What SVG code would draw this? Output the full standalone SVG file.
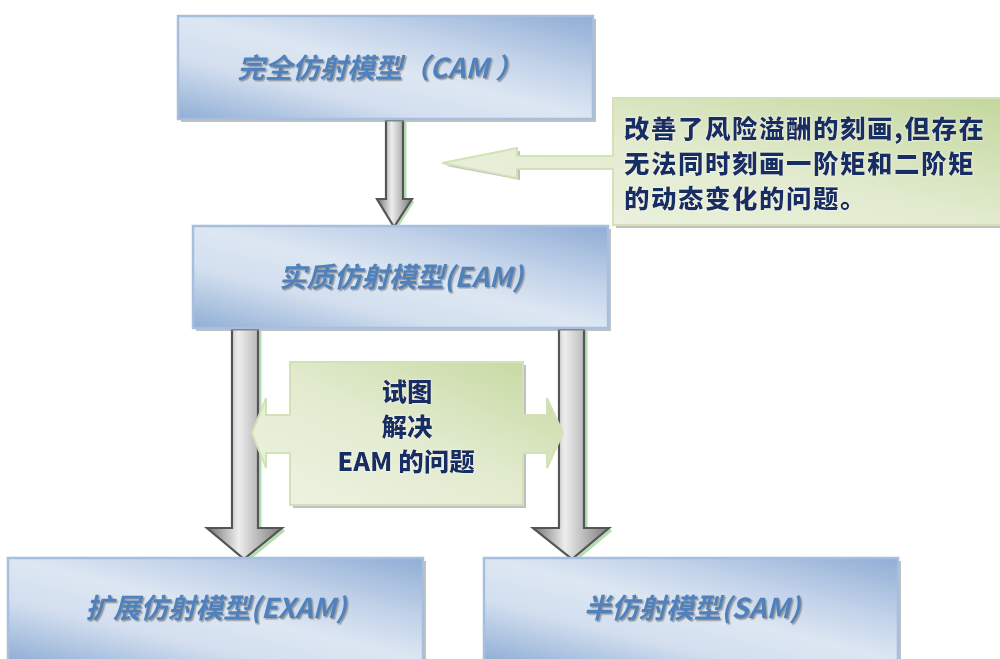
<svg xmlns="http://www.w3.org/2000/svg" width="1000" height="659" viewBox="0 0 1000 659">
  <defs>
    <linearGradient id="blueG" x1="0" y1="1" x2="1" y2="0">
      <stop offset="0" stop-color="#90aed5"/>
      <stop offset="0.3" stop-color="#d3dfef"/>
      <stop offset="0.5" stop-color="#dde7f3"/>
      <stop offset="0.72" stop-color="#bfd0e8"/>
      <stop offset="1" stop-color="#8fadd5"/>
    </linearGradient>
    <linearGradient id="greenG" x1="0" y1="1" x2="1" y2="0">
      <stop offset="0" stop-color="#eef3e3"/>
      <stop offset="0.5" stop-color="#e2ebcf"/>
      <stop offset="1" stop-color="#c4d79d"/>
    </linearGradient>
    <linearGradient id="grayG" x1="0" y1="0" x2="1" y2="0">
      <stop offset="0" stop-color="#707070"/>
      <stop offset="0.42" stop-color="#ededed"/>
      <stop offset="1" stop-color="#7a7a7a"/>
    </linearGradient>
    <filter id="tshadow" x="-10%" y="-30%" width="120%" height="160%">
      <feDropShadow dx="1.5" dy="1.5" stdDeviation="0.6" flood-color="#8a8a8a" flood-opacity="0.8"/>
    </filter>
    <filter id="nshadow" x="-10%" y="-30%" width="120%" height="160%">
      <feDropShadow dx="0" dy="0" stdDeviation="0.8" flood-color="#ffffff" flood-opacity="0.9"/>
    </filter>
  </defs>
  <style>
    .box { fill: url(#blueG); stroke: #a6bfde; stroke-width: 2.5; }
    .gbox { fill: url(#greenG); stroke: #d3e2b6; stroke-width: 2; }
    .shadow { fill: #8c8c8c; opacity: 0.55; }
    .garrow { fill: url(#grayG); stroke: #555555; stroke-width: 2.2; stroke-linejoin: miter; }
    .gshade { fill: none; stroke: #74c274; stroke-width: 3; opacity: 0.55; }
    .btxt { font-family: "Noto Sans CJK SC", "Noto Sans", sans-serif; font-size: 27.5px; font-weight: bold; font-style: italic; fill: #4f81bd; text-anchor: middle; }
    .ntxt { font-family: "Noto Sans CJK SC", "Noto Sans", sans-serif; font-weight: 900; fill: #172f63; }
  </style>

  <g id="connectors">
    <!-- CAM -> EAM -->
    <path class="gshade" d="M405,122 V200 M413,201 L396,228"/>
    <path class="garrow" d="M386,120 H403 V199 H412 L394,227 L377,199 H386 Z"/>
    <!-- EAM -> EXAM -->
    <path class="gshade" d="M260,331 V528 M284,530 L246,561"/>
    <path class="garrow" d="M232,329 H258 V528 H282 L244,559 L207,528 H232 Z"/>
    <!-- EAM -> SAM -->
    <path class="gshade" d="M586,331 V528 M611,530 L574,561"/>
    <path class="garrow" d="M559,329 H584 V528 H609 L572,559 L533,528 H559 Z"/>
  </g>

  <g id="node-cam">
    <rect class="shadow" x="181" y="19" width="415" height="103"/>
    <rect class="box" x="178" y="16" width="415" height="103"/>
    <text class="btxt" x="380" y="78" filter="url(#tshadow)">完全仿射模型（CAM ）</text>
  </g>

  <g id="node-note">
    <path class="shadow" d="M616,101 H1000 V228 H616 Z M446,166 L520,151 V180 Z"/>
    <path class="gbox" d="M613,98 H1002 V225 H613 V169 H517 V178 L442,163 L517,148 V156 H613 Z"/>
    <g class="ntxt" font-size="25.5" letter-spacing="1.5" filter="url(#nshadow)">
      <text x="624" y="138">改善了风险溢酬的刻画,但存在</text>
      <text x="624" y="173">无法同时刻画一阶矩和二阶矩</text>
      <text x="624" y="208">的动态变化的问题。</text>
    </g>
  </g>

  <g id="node-eam">
    <rect class="shadow" x="196" y="229" width="415" height="102"/>
    <rect class="box" x="193" y="226" width="415" height="102"/>
    <text class="btxt" x="401" y="287" filter="url(#tshadow)">实质仿射模型(EAM)</text>
  </g>

  <g id="node-solve">
    <path class="shadow" d="M293,365 H526 V508 H293 Z"/>
    <path class="gbox" d="M290,362 H523 V415 H547 V398 L563,433 L547,468 V453 H523 V505 H290 V453 H266 V468 L252,433 L266,398 V415 H290 Z"/>
    <g class="ntxt" font-size="25.5" text-anchor="middle" filter="url(#nshadow)">
      <text x="407" y="401">试图</text>
      <text x="407" y="436">解决</text>
      <text x="406" y="471">EAM 的问题</text>
    </g>
  </g>

  <g id="node-exam">
    <rect class="shadow" x="11" y="561" width="415" height="101"/>
    <rect class="box" x="8" y="558" width="415" height="103"/>
    <text class="btxt" x="216" y="618" filter="url(#tshadow)">扩展仿射模型(EXAM)</text>
  </g>

  <g id="node-sam">
    <rect class="shadow" x="487" y="561" width="414" height="101"/>
    <rect class="box" x="484" y="558" width="414" height="103"/>
    <text class="btxt" x="692" y="618" filter="url(#tshadow)">半仿射模型(SAM)</text>
  </g>
</svg>
